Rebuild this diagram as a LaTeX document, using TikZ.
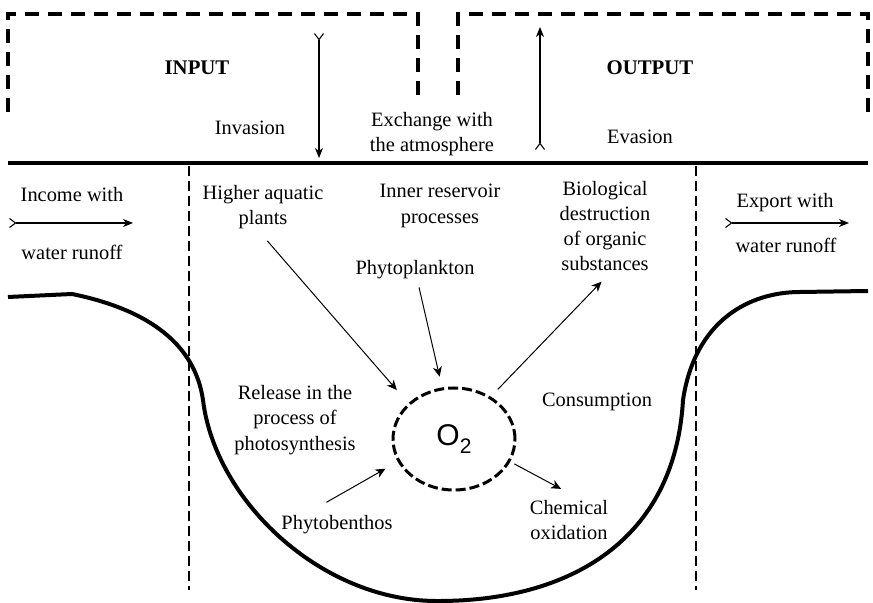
\documentclass[tikz,border=0pt]{standalone}
\usepackage{fontspec}
\setmainfont{Liberation Serif}
\newfontfamily\oxyfont{Liberation Sans}
\usetikzlibrary{arrows.meta,shapes.geometric}
\begin{document}
\begin{tikzpicture}[x=0.5pt, y=-0.5pt,
  label node/.style={align=center, font=\fontsize{10.2}{12.6}\selectfont},
  head node/.style={font=\fontsize{10.4}{12.6}\selectfont\bfseries},
  oxy node/.style={ellipse, draw, dash pattern=on 5pt off 2pt, line width=1.5pt, minimum width=61pt, minimum height=51pt, inner sep=0pt},
  arr/.style={-{Stealth[length=5pt,width=4.5pt,inset=1.5pt]}, line width=0.5pt},
  flux/.style={{Straight Barb[reversed,length=3pt,width=4.5pt]}-{Stealth[length=5pt,width=4pt,inset=1.5pt]}, line width=0.55pt},
  box line/.style={line width=1.6pt, dash pattern=on 7pt off 4.5pt},
  zone line/.style={line width=1.1pt, dash pattern=on 5pt off 2.5pt},
  shore/.style={line width=2pt}]
\useasboundingbox (0,0) rectangle (873,603);
% atmosphere boxes
\draw[box line] (8,112) -- (8,14) -- (418,14) -- (418,97);
\draw[box line] (868,112) -- (868,14) -- (458,14) -- (458,97);
% water surface, zone borders and lake bed
\draw[shore] (8,163) -- (868,163);
\draw[zone line] (189,166) -- (189,590);
\draw[zone line] (696,166) -- (696,590);
\draw[shore] (8,297) -- (72,294) .. controls (150,310) and (195,345) .. (203,400)
  .. controls (215,500) and (320,600) .. (435,601)
  .. controls (570,602) and (675,540) .. (683,400)
  .. controls (695,320) and (750,292) .. (800,292) -- (868,291);
\begin{scope}[every node/.style={label node}]
\node[head node] (inp) at (197,68) {INPUT};
\node[head node] (outp) at (650,68) {OUTPUT};
\node (inv) at (250,128) {Invasion};
\node (exch) at (432,134) {Exchange with\\the atmosphere};
\node (eva) at (640,137) {Evasion};
\node (inc) at (72,195) {Income with};
\node (incw) at (72,252) {water runoff};
\node (exp) at (785,203) {Export with};
\node (expw) at (786,245) {water runoff};
\node (hap) at (263,207) {Higher aquatic\\plants};
\node (irp) at (440,206) {Inner reservoir\\processes};
\node (bds) at (605,226) {Biological\\destruction\\of organic\\substances};
\node (pp) at (415,270) {Phytoplankton};
\node (rel) at (295,420) {Release in the\\process of\\photosynthesis};
\node (cons) at (597,402) {Consumption};
\node (pb) at (337,525) {Phytobenthos};
\node (chem) at (569,520) {Chemical\\oxidation};
\node[oxy node] (o2) at (454,439) {\raisebox{-2pt}{\oxyfont\fontsize{15}{18}\selectfont O\raisebox{-4pt}{\fontsize{10.5}{12}\selectfont 2}}};
\end{scope}
\coordinate (invtop) at (319,33);
\coordinate (invbot) at (319,158);
\coordinate (evabot) at (540,150);
\coordinate (evatop) at (540,27);
\coordinate (inca) at (9,223);
\coordinate (incb) at (133,223);
\coordinate (expa) at (725,223);
\coordinate (expb) at (849,223);
\path
  (invtop) edge[flux] (invbot)
  (evabot) edge[flux] (evatop)
  (inca) edge[flux] (incb)
  (expa) edge[flux] (expb)
  (hap.south) edge[arr, shorten <=3.3pt, shorten >=8.7pt] (o2.142)
  (pp) edge[arr, shorten <=0.5pt, shorten >=5.5pt] (o2)
  (o2.49) edge[arr, shorten <=5pt, shorten >=2.5pt] (bds.south)
  (pb.143) edge[arr, shorten <=6.4pt, shorten >=7pt] (o2.202)
  (o2.-22) edge[arr, shorten <=2.3pt, shorten >=4.5pt] (chem.north)
  ;
\end{tikzpicture}
\end{document}
